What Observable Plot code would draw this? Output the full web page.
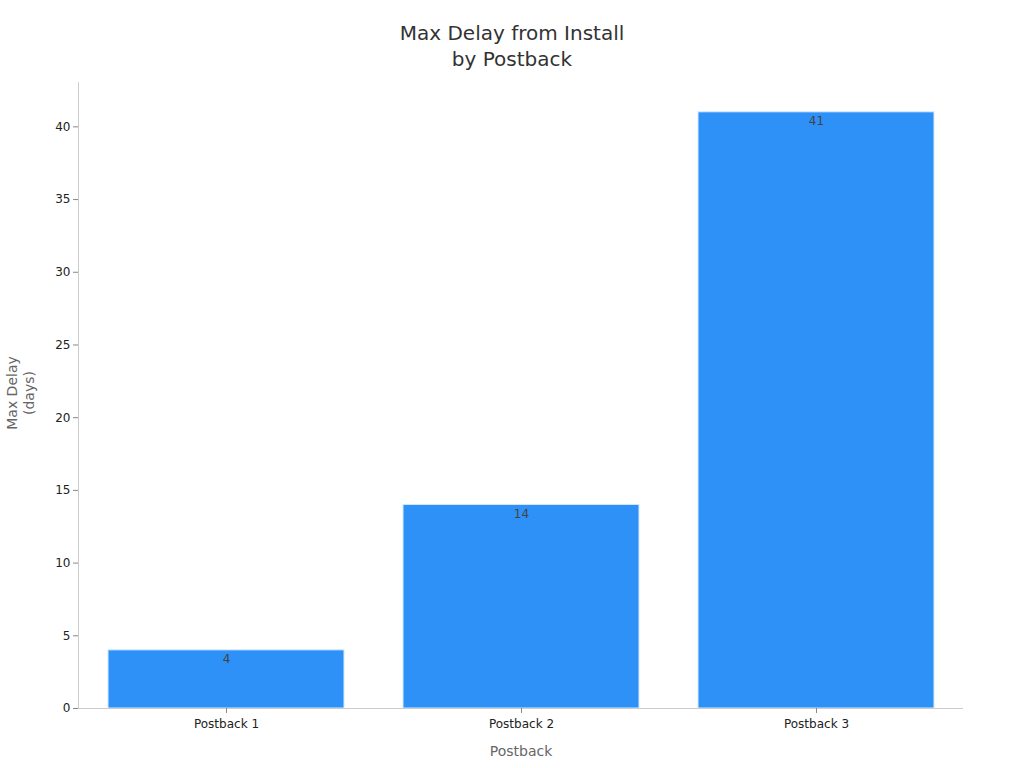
<!DOCTYPE html>
<html>
<head>
<meta charset="utf-8">
<script src="https://cdn.jsdelivr.net/npm/d3@7"></script>
<script src="https://cdn.jsdelivr.net/npm/@observablehq/plot@0.6"></script>
<style>
  html, body { margin: 0; padding: 0; background: #fff; }
  body { width: 1024px; height: 768px; overflow: hidden; font-family: "DejaVu Sans", sans-serif; position: relative; }
  #title { position: absolute; left: 0; top: 20px; width: 1024px; text-align: center; font-size: 20px; line-height: 26px; color: #333; z-index: 2; }
  #chart { position: absolute; left: 0; top: 72px; z-index: 1; }
  #ylabel { position: absolute; left: 21px; top: 393px; transform: translate(-50%, -50%) rotate(-90deg); text-align: center; font-size: 14px; line-height: 17px; color: #666; white-space: nowrap; z-index: 3; }
</style>
</head>
<body>
<div id="title">Max Delay from Install<br>by Postback</div>
<div id="chart"></div>
<div id="ylabel">Max Delay<br>(days)</div>
<script>
const categories = ["Postback 1", "Postback 2", "Postback 3"];
const values = [4, 14, 41];
const yTicks = [0, 5, 10, 15, 20, 25, 30, 35, 40];

const data = categories.map((c, i) => ({postback: c, delay: values[i]}));

const plot = Plot.plot({
  width: 1024,
  height: 696,
  marginLeft: 78,
  marginRight: 61,
  marginTop: 10,
  marginBottom: 60,
  style: {fontFamily: "DejaVu Sans, sans-serif", fontSize: "12px", color: "#333", background: "#fff"},
  x: {domain: categories, paddingInner: 0.2, paddingOuter: 0.1, label: null},
  y: {domain: [0, 43.05], label: null},
  marks: [
    Plot.barY(data, {x: "postback", y: "delay", fill: "#2E91F8", stroke: "#d6eaff", strokeWidth: 1}),
    Plot.text(data, {x: "postback", y: "delay", text: d => String(d.delay), dy: 9, fill: "#444", fontSize: 12}),
    Plot.frame({anchor: "left", stroke: "#ccc"}),
    Plot.ruleY([0], {stroke: "#ccc"}),
    Plot.axisY({ticks: yTicks, tickSize: 5, tickPadding: 3, stroke: "#888", label: null, fontSize: 12, fill: "#222"}),
    Plot.axisX({tickSize: 5, tickPadding: 6, stroke: "#888", label: "Postback", labelAnchor: "center", labelOffset: 47, fontSize: 12, fill: "#222"})
  ]
});
document.getElementById("chart").appendChild(plot);

plot.querySelectorAll("text").forEach(t => {
  if (t.textContent === "Postback") { t.setAttribute("fill", "#666"); t.style.fontSize = "14px"; }
});
</script>
</body>
</html>
